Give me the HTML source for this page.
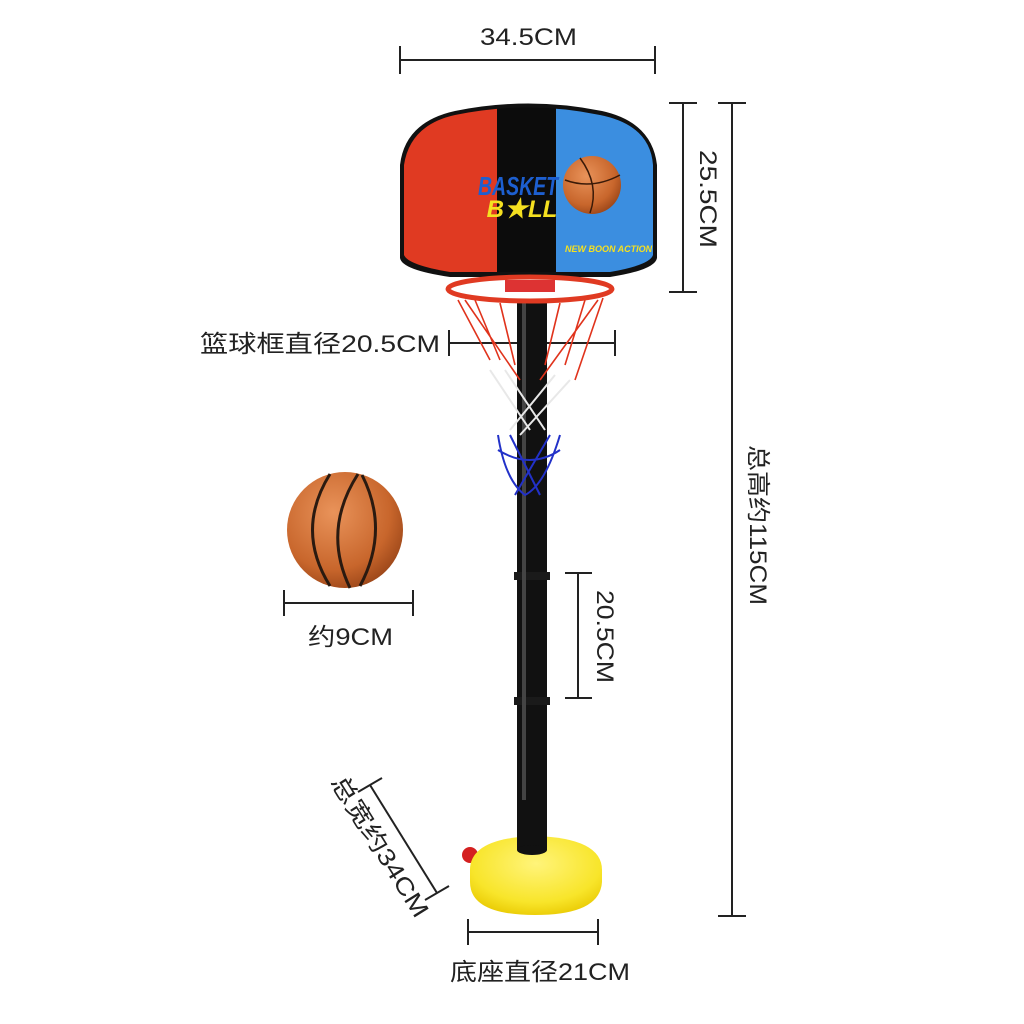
<!DOCTYPE html>
<html><head><meta charset="utf-8"><style>
html,body{margin:0;padding:0;background:#fff;}
svg{display:block}
text{font-family:"Liberation Sans","Noto Sans CJK SC",sans-serif;fill:#222;}
</style></head><body>
<svg width="1024" height="1024" viewBox="0 0 1024 1024" xmlns="http://www.w3.org/2000/svg">
<defs>
<radialGradient id="ball" cx="0.4" cy="0.35" r="0.7"><stop offset="0" stop-color="#e9935a"/><stop offset="0.7" stop-color="#c8662c"/><stop offset="1" stop-color="#9a4518"/></radialGradient>
<radialGradient id="base" cx="0.5" cy="0.35" r="0.7"><stop offset="0" stop-color="#fff47a"/><stop offset="0.7" stop-color="#f8e52a"/><stop offset="1" stop-color="#e8c800"/></radialGradient>
<clipPath id="bb"><path d="M404,165 Q410,125 455,115 Q528,100 600,115 Q650,125 653,165 L653,255 Q650,265 610,272 L450,272 Q408,265 404,255 Z"/></clipPath>
</defs>
<g stroke="#222" stroke-width="2" fill="none">
<line x1="400" y1="60" x2="655" y2="60"/><line x1="400" y1="46" x2="400" y2="74"/><line x1="655" y1="46" x2="655" y2="74"/>
<line x1="683" y1="103" x2="683" y2="292"/><line x1="669" y1="103" x2="697" y2="103"/><line x1="669" y1="292" x2="697" y2="292"/>
<line x1="732" y1="103" x2="732" y2="916"/><line x1="718" y1="103" x2="746" y2="103"/><line x1="718" y1="916" x2="746" y2="916"/>
<line x1="449" y1="343" x2="615" y2="343"/><line x1="449" y1="330" x2="449" y2="356"/><line x1="615" y1="330" x2="615" y2="356"/>
<line x1="284" y1="603" x2="413" y2="603"/><line x1="284" y1="590" x2="284" y2="616"/><line x1="413" y1="590" x2="413" y2="616"/>
<line x1="578" y1="573" x2="578" y2="698"/><line x1="565" y1="573" x2="592" y2="573"/><line x1="565" y1="698" x2="592" y2="698"/>
<line x1="370" y1="785" x2="437" y2="893"/><line x1="358" y1="792" x2="382" y2="778"/><line x1="425" y1="900" x2="449" y2="886"/>
<line x1="468" y1="932" x2="598" y2="932"/><line x1="468" y1="919" x2="468" y2="945"/><line x1="598" y1="919" x2="598" y2="945"/>
</g>
<g font-size="24" lengthAdjust="spacingAndGlyphs">
<text x="480" y="45" textLength="97" lengthAdjust="spacingAndGlyphs">34.5CM</text>
<text x="0" y="0" textLength="98" lengthAdjust="spacingAndGlyphs" transform="translate(700,150) rotate(90)">25.5CM</text>
<text x="0" y="0" textLength="160" lengthAdjust="spacingAndGlyphs" transform="translate(750,445) rotate(90)">总高约115CM</text>
<text x="200" y="352" textLength="240" lengthAdjust="spacingAndGlyphs">篮球框直径20.5CM</text>
<text x="308" y="645" textLength="85" lengthAdjust="spacingAndGlyphs">约9CM</text>
<text x="0" y="0" textLength="93" lengthAdjust="spacingAndGlyphs" transform="translate(597,590) rotate(90)">20.5CM</text>
<text x="0" y="0" textLength="162" lengthAdjust="spacingAndGlyphs" transform="translate(330,782) rotate(58)">总宽约34CM</text>
<text x="450" y="980" textLength="180" lengthAdjust="spacingAndGlyphs">底座直径21CM</text>
</g>
<!-- ball -->
<circle cx="345" cy="530" r="58" fill="url(#ball)"/>
<g stroke="#2a1a10" stroke-width="3" fill="none">
<path d="M330,474 Q295,530 330,586"/><path d="M362,475 Q390,530 360,586"/><path d="M358,474 Q322,530 350,588"/>
</g>
<!-- pole -->
<rect x="517" y="300" width="30" height="555" fill="#111"/>
<rect x="514" y="572" width="36" height="8" fill="#1a1a1a"/>
<rect x="514" y="697" width="36" height="8" fill="#1a1a1a"/>
<rect x="522" y="300" width="4" height="500" fill="#444"/>
<!-- base -->
<circle cx="470" cy="855" r="8" fill="#d42020"/>
<path d="M470,870 Q470,838 535,836 Q602,838 602,870 L602,882 Q600,915 535,915 Q470,915 470,882 Z" fill="url(#base)"/>
<rect x="517" y="800" width="30" height="50" fill="#111"/><ellipse cx="532" cy="850" rx="15" ry="5" fill="#111"/>
<!-- backboard -->
<path d="M400,165 Q405,122 455,111 Q528,96 602,111 Q652,122 657,165 L657,258 Q655,270 610,277 L450,277 Q402,270 400,258 Z" fill="#111"/>
<g clip-path="url(#bb)">
<rect x="400" y="100" width="97" height="190" fill="#e03a22"/>
<rect x="497" y="100" width="59" height="190" fill="#0c0c0c"/>
<rect x="556" y="100" width="100" height="190" fill="#3b8ee0"/>
</g>
<text x="518" y="195" font-size="26" font-weight="bold" font-style="italic" style="fill:#1d5fd0" text-anchor="middle" textLength="80" lengthAdjust="spacingAndGlyphs">BASKET</text>
<text x="522" y="217" font-size="24" font-weight="bold" font-style="italic" style="fill:#f5e020" text-anchor="middle">B★LL</text>
<text x="565" y="252" font-size="9" font-weight="bold" font-style="italic" style="fill:#f5e020">NEW BOON ACTION</text>
<circle cx="592" cy="185" r="29" fill="url(#ball)"/>
<g stroke="#3a1a08" stroke-width="1.5" fill="none"><path d="M565,180 Q592,190 620,175"/><path d="M580,158 Q600,185 590,213"/></g>
<!-- rim & net -->
<g stroke="#e0331c" stroke-width="1.6" fill="none">
<path d="M458,300 L490,360 M475,300 L500,360 M500,303 L515,365 M560,303 L545,365 M585,300 L565,365 M603,298 L575,380 M465,300 L520,380 M598,300 L540,380"/>
</g>
<g stroke="#e8e8e8" stroke-width="2" fill="none"><path d="M490,370 L530,430 M570,380 L520,435 M505,370 L545,430 M555,375 L510,430"/></g>
<g stroke="#2231c8" stroke-width="2" fill="none"><path d="M498,435 Q505,480 525,495 Q545,485 560,435 M510,435 L540,495 M550,435 L515,495 M498,450 Q530,470 560,450"/></g>
<ellipse cx="530" cy="289" rx="82" ry="12" fill="none" stroke="#e03a22" stroke-width="5"/>
<rect x="505" y="280" width="50" height="12" fill="#d33"/>
</svg>
</body></html>
